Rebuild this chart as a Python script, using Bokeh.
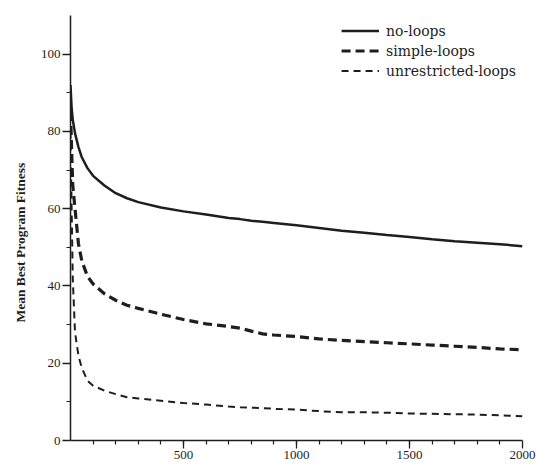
from bokeh.plotting import figure
from bokeh.models import Range1d, FixedTicker, Legend, LegendItem, Title
from bokeh.embed import file_html
from bokeh.resources import INLINE

generations = [0, 5, 10, 20, 35, 50, 75, 100, 150, 200, 250, 300, 400, 500, 600, 700,
               750, 800, 850, 900, 1000, 1100, 1200, 1300, 1400, 1500, 1600, 1700, 1800, 1900, 2000]
no_loops = [92, 86, 83, 79.5, 76, 73.3, 70.5, 68.5, 66, 64, 62.7, 61.7, 60.3, 59.3, 58.5, 57.6,
            57.3, 56.9, 56.6, 56.3, 55.7, 55.0, 54.3, 53.8, 53.2, 52.7, 52.1, 51.6, 51.2, 50.8, 50.3]
simple_loops = [85, 75, 66, 60, 51, 46.5, 42.5, 40.5, 38, 36.3, 35, 34.2, 32.7, 31.3, 30.2, 29.5,
                29.1, 28.3, 27.6, 27.3, 26.9, 26.3, 25.9, 25.6, 25.3, 25.0, 24.7, 24.4, 24.1, 23.7, 23.5]
unrestricted_loops = [80, 60, 42, 28, 22, 18.8, 15.5, 14.2, 12.9, 12.0, 11.2, 10.9, 10.3, 9.7, 9.3, 8.8,
                      8.6, 8.5, 8.4, 8.2, 8.0, 7.6, 7.3, 7.3, 7.2, 7.0, 6.9, 6.8, 6.7, 6.5, 6.3]

x_ticks = [500, 1000, 1500, 2000]
y_ticks = [0, 20, 40, 60, 80, 100]
series_names = ["no-loops", "simple-loops", "unrestricted-loops"]
y_label = "Mean Best Program Fitness"

FONT = "Liberation Serif"
INK = "#1e1e1e"

p = figure(width=536, height=467, output_backend="svg", toolbar_location=None,
           x_range=Range1d(0, 2000), y_range=Range1d(0, 110),
           min_border_left=69, min_border_right=14, min_border_top=15, min_border_bottom=27)
p.outline_line_color = None
p.xgrid.visible = False
p.ygrid.visible = False
p.background_fill_color = "white"

r1 = p.line(generations, no_loops, line_color=INK, line_width=2.5)
r2 = p.line(generations, simple_loops, line_color=INK, line_width=3.2, line_dash="9 5")
r3 = p.line(generations, unrestricted_loops, line_color=INK, line_width=2.0, line_dash="7 5")

for ax in (p.xaxis[0], p.yaxis[0]):
    ax.axis_line_color = INK
    ax.axis_line_width = 1.5
    ax.major_tick_line_color = INK
    ax.minor_tick_line_color = INK
    ax.major_tick_line_width = 1.3
    ax.minor_tick_line_width = 1.2
    ax.major_tick_in = 0
    ax.minor_tick_in = 0
    ax.major_tick_out = 8
    ax.minor_tick_out = 4
    ax.major_label_text_font = FONT
    ax.major_label_text_font_size = "13px"
    ax.major_label_text_color = INK

p.xaxis[0].ticker = FixedTicker(ticks=x_ticks, minor_ticks=list(range(100, 2000, 100)))
p.yaxis[0].ticker = FixedTicker(ticks=y_ticks, minor_ticks=list(range(10, 110, 20)))
p.xaxis[0].major_label_standoff = 2
p.yaxis[0].major_label_standoff = 2

ytitle = Title(text=y_label, align="left", offset=118,
               text_font=FONT, text_font_size="13.5px", text_font_style="bold",
               text_color=INK, standoff=20)
p.add_layout(ytitle, "left")

legend = Legend(items=[LegendItem(label=series_names[0], renderers=[r1]),
                       LegendItem(label=series_names[1], renderers=[r2]),
                       LegendItem(label=series_names[2], renderers=[r3])],
                location="top_right")
legend.border_line_color = None
legend.background_fill_alpha = 0
legend.label_text_font = "DejaVu Serif"
legend.label_text_font_size = "14px"
legend.label_text_color = INK
legend.glyph_width = 38
legend.glyph_height = 19
legend.label_height = 19
legend.spacing = 1
legend.padding = 4
legend.margin = 6
legend.label_standoff = 7
p.add_layout(legend)

open("out.html", "w").write(file_html(p, INLINE))
